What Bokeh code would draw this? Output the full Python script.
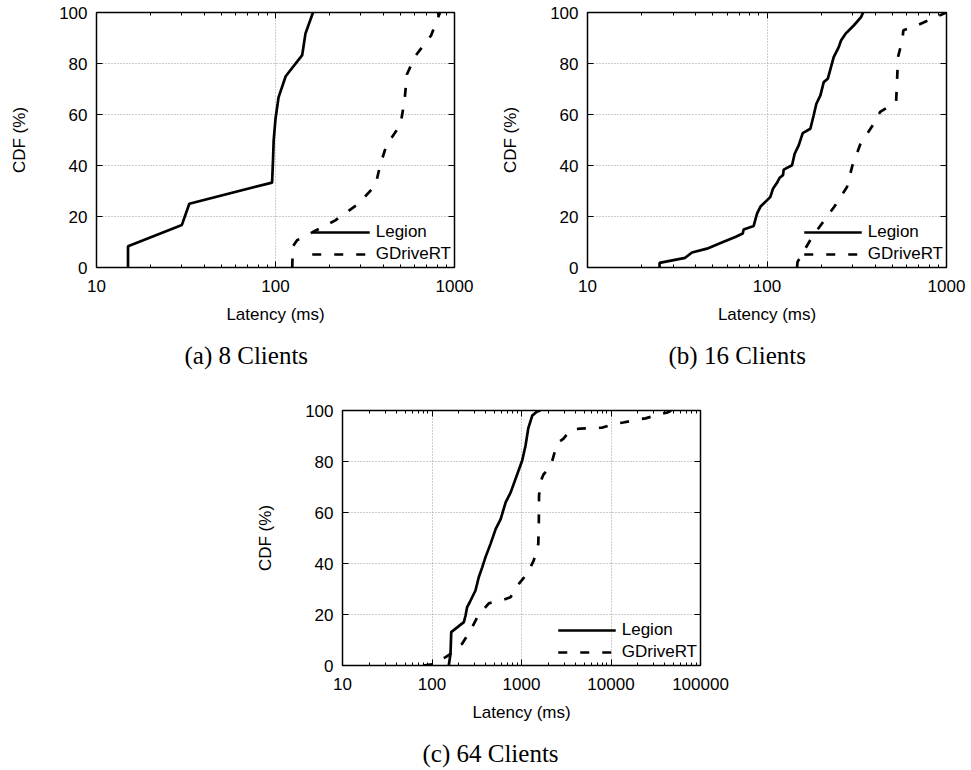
from bokeh.plotting import figure
from bokeh.models import (Range1d, LogAxis, LinearAxis, FixedTicker, SingleIntervalTicker,
                          PrintfTickFormatter, CustomJSTickFormatter, Legend, LegendItem,
                          Title, Spacer)
from bokeh.layouts import column, row
from bokeh.embed import file_html
from bokeh.resources import INLINE

# ---------------- data ----------------
series_names = ["Legion", "GDriveRT"]
x_ticks_ab = [10, 100, 1000]
x_ticks_c = [10, 100, 1000, 10000, 100000]

# (a) 8 clients
a_legion_x = [15, 15, 30, 33, 95.7, 96.8, 97.7, 100, 104, 114, 141, 147, 162]
a_legion_y = [0, 8.3, 16.7, 25, 33.3, 41.7, 50, 58.3, 66.7, 75, 83.3, 91.7, 100]
a_gdrive_x = [124, 125, 132, 170, 216, 288, 362, 384, 417, 499, 526, 542, 605, 740, 830]
a_gdrive_y = [0, 8.3, 10.7, 14.7, 18.5, 24.8, 32.2, 40, 48, 56, 65.5, 75.7, 83, 91, 100]

# (b) 16 clients
b_legion_x = [25.2, 25.2, 35, 38.2, 46.3, 57.3, 66.6, 73.2, 74.1, 84.3, 88, 91.8, 102.2,
              104.4, 108, 113.7, 117.7, 122.8, 123.9, 137.9, 142.6, 150.2, 158.1, 174.4,
              182, 188.4, 198.4, 207, 218, 235.3, 251, 258.5, 273.4, 304.3, 334.2, 343]
b_legion_y = [0, 1.8, 3.8, 5.9, 7.4, 10.1, 12.0, 13.3, 14.9, 16.3, 21.1, 23.8, 27,
              27.7, 30.9, 33.2, 35.2, 36.2, 38.4, 40.1, 44.6, 47.9, 52.7, 54.4,
              59.7, 64.2, 67.5, 72.7, 74, 82.5, 86.4, 89, 91.6, 94.9, 98.2, 100]
b_gdrive_x = [147, 148, 174, 186, 237, 279, 299, 331, 385, 427, 524, 530, 537, 568, 575, 686, 1000]
b_gdrive_y = [0, 2.2, 10.7, 13.7, 23.8, 31.6, 40, 48.3, 55.4, 61, 65, 72.7, 82.5, 89.5, 93, 95, 100]

# (c) 64 clients
c_legion_x = [154, 161, 164, 227, 237, 247, 264, 306, 333, 364, 396, 451, 514, 585, 665,
              757, 1018, 1110, 1190, 1318, 1480, 1630]
c_legion_y = [0, 4.6, 13.1, 17, 19.6, 22.9, 24.8, 29.4, 34.6, 38.5, 42.5, 47.7, 53.5, 57.4, 64,
              67.9, 80.4, 86.3, 93, 98, 99.5, 100]
c_gdrive_x = [80, 100, 142, 161, 217, 269, 320, 431, 634, 753, 933, 1159, 1371, 1540, 1560,
              1570, 1650, 1760, 2110, 2260, 2500, 2950, 3530, 4560, 8030, 11200, 13700,
              20300, 24300, 33900, 42700, 47000]
c_gdrive_y = [0, 0.5, 3.3, 4.6, 8.5, 13.7, 18.9, 24.4, 25.8, 26.8, 32, 36, 41.2, 47.7, 55,
              66.7, 72.5, 74.9, 78, 81.6, 87.1, 89, 92.5, 92.9, 93.3, 94.9, 95.3,
              96.5, 96.9, 98.4, 99.2, 100]

captions = ["(a)  8 Clients", "(b)  16 Clients", "(c)  64 Clients"]
x_label = "Latency (ms)"
y_label = "CDF (%)"

SANS = "Liberation Sans"
SERIF = "Liberation Serif"
FS = "17px"


def style_axis(ax, show_labels):
    ax.axis_line_color = None
    ax.major_tick_in = 6
    ax.major_tick_out = 0
    ax.minor_tick_in = 3
    ax.minor_tick_out = 0
    ax.major_tick_line_color = "black"
    ax.minor_tick_line_color = "black"
    ax.major_tick_line_width = 1
    ax.minor_tick_line_width = 1
    ax.major_label_text_font = SANS
    ax.major_label_text_font_size = FS
    ax.major_label_text_color = "black"
    ax.axis_label_text_font = SANS
    ax.axis_label_text_font_size = FS
    ax.axis_label_text_font_style = "normal"
    ax.axis_label_text_color = "black"
    if not show_labels:
        ax.formatter = CustomJSTickFormatter(code="return ''")
        ax.major_label_standoff = 0


def make_panel(xmax, majors, lx, ly, gx, gy, caption, width, height,
               left, right, top, bottom, cap_offset):
    p = figure(width=width, height=height, x_axis_type="log",
               x_range=Range1d(10, xmax), y_range=Range1d(0, 100),
               output_backend="svg", toolbar_location=None,
               min_border_left=left, min_border_right=right,
               min_border_top=top, min_border_bottom=bottom,
               background_fill_color="white", border_fill_color="white")
    p.outline_line_color = "black"
    p.outline_line_width = 1.5
    p.outline_line_alpha = 1.0

    minors = [m * t for t in majors[:-1] for m in range(2, 10)]
    xt = FixedTicker(ticks=majors, minor_ticks=minors)
    yt = SingleIntervalTicker(interval=20, num_minor_ticks=0)

    xa = p.xaxis[0]
    xa.ticker = xt
    xa.formatter = PrintfTickFormatter(format="%d")
    xa.axis_label = x_label
    style_axis(xa, True)
    xa.major_label_standoff = 12
    xa.axis_label_standoff = 10

    ya = p.yaxis[0]
    ya.ticker = yt
    ya.axis_label = y_label
    style_axis(ya, True)
    ya.major_label_standoff = 9
    ya.axis_label_standoff = 27

    top_ax = LogAxis(ticker=xt)
    style_axis(top_ax, False)
    p.add_layout(top_ax, "above")
    right_ax = LinearAxis(ticker=yt)
    style_axis(right_ax, False)
    p.add_layout(right_ax, "right")

    for g in (p.xgrid[0], p.ygrid[0]):
        g.grid_line_color = "#9a9a9a"
        g.grid_line_dash = "1 2"
        g.grid_line_width = 1
    p.xgrid[0].ticker = xt
    p.ygrid[0].ticker = yt

    r1 = p.line(lx, ly, line_color="black", line_width=2.7)
    r2 = p.line(gx, gy, line_color="black", line_width=2.7, line_dash="9 13")

    leg = Legend(items=[LegendItem(label=series_names[0], renderers=[r1]),
                        LegendItem(label=series_names[1], renderers=[r2])],
                 location="bottom_right")
    leg.background_fill_alpha = 0
    leg.border_line_color = None
    leg.label_text_font = SANS
    leg.label_text_font_size = FS
    leg.label_text_color = "black"
    leg.glyph_width = 58
    leg.glyph_height = 16
    leg.label_height = 16
    leg.spacing = 2
    leg.padding = 2
    leg.margin = 3
    leg.label_standoff = 6
    p.add_layout(leg)

    # blank spacer band between the axis label and the caption
    gap = Title(text=" ", text_font_size="1px", standoff=9)
    p.add_layout(gap, "below")
    cap = Title(text=caption, align="left", offset=cap_offset, standoff=2,
                text_font=SERIF, text_font_size="25px", text_font_style="normal",
                text_color="black")
    p.add_layout(cap, "below")
    return p


p1 = make_panel(1000, x_ticks_ab, a_legion_x, a_legion_y, a_gdrive_x, a_gdrive_y, captions[0],
                490, 380, 96, 36, 12, 113, 88)
p2 = make_panel(1000, x_ticks_ab, b_legion_x, b_legion_y, b_gdrive_x, b_gdrive_y, captions[1],
                481, 380, 97, 25, 12, 113, 81)
p3 = make_panel(100000, x_ticks_c, c_legion_x, c_legion_y, c_gdrive_x, c_gdrive_y, captions[2],
                498, 390, 100, 40, 30, 105, 80)

layout = column(row(p1, p2), row(Spacer(width=242, height=390), p3))

open("out.html", "w").write(file_html(layout, INLINE))
